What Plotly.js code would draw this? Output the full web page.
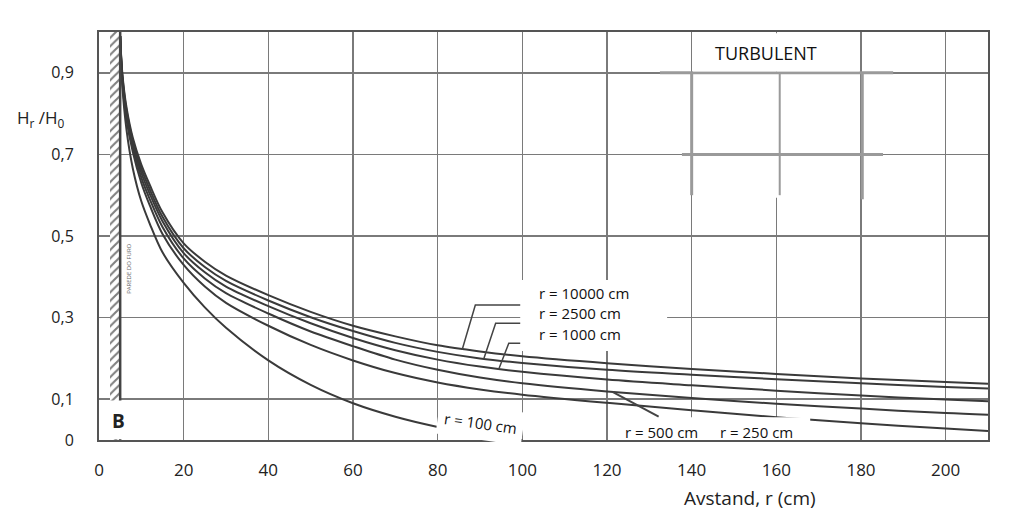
<!DOCTYPE html>
<html>
<head>
<meta charset="utf-8">
<script src="https://cdn.plot.ly/plotly-3.0.1.min.js"></script>
<style>
  html, body { margin: 0; padding: 0; background: #fff; }
  #chart { width: 1023px; height: 526px; }
</style>
</head>
<body>
<div id="chart"></div>
<script>
// distance from the well centre, cm
var distance = [5, 5.5, 6.5, 8, 10, 12, 15, 20, 25, 30, 40, 50, 60, 70, 80, 90, 100, 120, 140, 160, 180, 200, 210];
var distance100 = [5, 5.5, 6.5, 8, 10, 12, 15, 20, 25, 30, 40, 50, 60, 70, 80, 90, 100];

// Hr/H0, one list per radius of influence
var r10000 = [0.99, 0.90, 0.815, 0.74, 0.675, 0.625, 0.558, 0.482, 0.437, 0.403, 0.355, 0.314, 0.28, 0.254, 0.232, 0.217, 0.205, 0.188, 0.174, 0.162, 0.151, 0.142, 0.138];
var r2500 = [0.99, 0.895, 0.808, 0.733, 0.665, 0.614, 0.547, 0.47, 0.424, 0.39, 0.342, 0.301, 0.267, 0.238, 0.216, 0.2, 0.189, 0.172, 0.16, 0.149, 0.139, 0.13, 0.126];
var r1000 = [0.99, 0.89, 0.80, 0.725, 0.655, 0.603, 0.536, 0.458, 0.411, 0.376, 0.328, 0.286, 0.25, 0.22, 0.197, 0.18, 0.167, 0.148, 0.134, 0.121, 0.109, 0.099, 0.095];
var r500 = [0.99, 0.885, 0.792, 0.715, 0.643, 0.59, 0.522, 0.445, 0.396, 0.36, 0.31, 0.266, 0.23, 0.197, 0.172, 0.153, 0.139, 0.119, 0.103, 0.089, 0.077, 0.066, 0.062];
var r250 = [0.99, 0.88, 0.785, 0.705, 0.63, 0.575, 0.505, 0.429, 0.376, 0.336, 0.28, 0.233, 0.195, 0.164, 0.141, 0.124, 0.111, 0.091, 0.073, 0.056, 0.041, 0.028, 0.022];
var r100 = [0.99, 0.87, 0.76, 0.665, 0.585, 0.53, 0.46, 0.385, 0.325, 0.275, 0.195, 0.135, 0.09, 0.057, 0.032, 0.013, 0.0];

var xTicks = [0, 20, 40, 60, 80, 100, 120, 140, 160, 180, 200];
var yTicks = [0, 0.1, 0.3, 0.5, 0.7, 0.9];
var yTickText = ["0", "0,1", "0,3", "0,5", "0,7", "0,9"];

var wallRadius = 5;   // borehole wall
var wallInner = 2.5;

var font = "Open Sans, Noto Sans, sans-serif";
var curveColor = "#3a3a3a";

function curve(x, y, name) {
    return {
        x: x, y: y, name: name,
        mode: "lines",
        line: { color: curveColor, width: 2, shape: "spline", smoothing: 0.9 },
        hoverinfo: "skip",
        showlegend: false
    };
}

var data = [
    // hatched strip for the borehole wall
    {
        type: "bar",
        x: [(wallInner + wallRadius) / 2],
        y: [1],
        width: [wallRadius - wallInner],
        marker: {
            color: "white",
            line: { width: 0 },
            pattern: { shape: "/", fgcolor: "#808080", bgcolor: "white", size: 6, solidity: 0.35 }
        },
        hoverinfo: "skip",
        showlegend: false
    },
    curve(distance, r10000, "r = 10000 cm"),
    curve(distance, r2500, "r = 2500 cm"),
    curve(distance, r1000, "r = 1000 cm"),
    curve(distance, r500, "r = 500 cm"),
    curve(distance, r250, "r = 250 cm"),
    curve(distance100, r100, "r = 100 cm")
];

var pasteGrey = "#9a9a9a";
var shapes = [
    // wall line
    { type: "line", x0: wallRadius, x1: wallRadius, y0: 0, y1: 1, line: { color: "#444", width: 2.5 } },
    // patch under TURBULENT: blank out the grid, then the re-drawn pieces
    { type: "rect", layer: "above", x0: 140.6, x1: 179.6, y0: 0.594, y1: 0.899, fillcolor: "white", line: { width: 0 } },
    { type: "line", layer: "above", x0: 132.5, x1: 187.6, y0: 0.9, y1: 0.9, line: { color: pasteGrey, width: 3 } },
    { type: "line", layer: "above", x0: 137.7, x1: 185.2, y0: 0.7, y1: 0.7, line: { color: pasteGrey, width: 3 } },
    { type: "line", layer: "above", x0: 140, x1: 140, y0: 0.9, y1: 0.6, line: { color: pasteGrey, width: 3 } },
    { type: "line", layer: "above", x0: 180.3, x1: 180.3, y0: 0.9, y1: 0.59, line: { color: pasteGrey, width: 3 } },
    { type: "line", layer: "above", x0: 160.8, x1: 160.8, y0: 0.9, y1: 0.6, line: { color: pasteGrey, width: 2 } },
    // white boxes pasted over the scan
    { type: "rect", layer: "above", x0: 140.3, x1: 179.7, y0: 0.903, y1: 0.997, fillcolor: "white", line: { width: 0 } },
    { type: "rect", layer: "above", x0: 0.4, x1: 11.5, y0: 0.002, y1: 0.097, fillcolor: "white", line: { width: 0 } },
    { type: "rect", layer: "above", x0: 99.5, x1: 134.2, y0: 0.218, y1: 0.392, fillcolor: "white", line: { width: 0 } },
    { type: "rect", layer: "above", x0: 121.4, x1: 168, y0: -0.017, y1: 0.056, fillcolor: "white", line: { width: 0 } },
    // leader lines
    { type: "path", layer: "above", path: "M 85.8 0.222 L 88.9 0.331 L 99.5 0.331", line: { color: "#444", width: 1.5 } },
    { type: "path", layer: "above", path: "M 90.9 0.199 L 93.7 0.286 L 99.5 0.286", line: { color: "#444", width: 1.5 } },
    { type: "path", layer: "above", path: "M 94.4 0.173 L 96.8 0.237 L 99.5 0.237", line: { color: "#444", width: 1.5 } },
    { type: "line", layer: "above", x0: 121.3, y0: 0.118, x1: 132.2, y1: 0.057, line: { color: "#444", width: 2 } }
];

var annotations = [
    { x: 157.6, y: 0.949, text: "TURBULENT", showarrow: false, font: { family: font, size: 18, color: "#111" } },
    { x: 4.6, y: 0.047, text: "<b>B</b>", showarrow: false, font: { family: font, size: 19, color: "#222" } },
    { x: 90, y: 0.042, text: "r = 100 cm", textangle: 8, showarrow: false, bgcolor: "white", borderpad: 6,
      font: { family: font, size: 15, color: "#111" } },
    { x: 103.5, y: 0.361, xanchor: "left", text: "r = 10000 cm", showarrow: false, font: { family: font, size: 15, color: "#111" } },
    { x: 103.5, y: 0.311, xanchor: "left", text: "r = 2500 cm", showarrow: false, font: { family: font, size: 15, color: "#111" } },
    { x: 103.5, y: 0.259, xanchor: "left", text: "r = 1000 cm", showarrow: false, font: { family: font, size: 15, color: "#111" } },
    { x: 132.8, y: 0.02, text: "r = 500 cm", showarrow: false, font: { family: font, size: 15, color: "#111" } },
    { x: 155.2, y: 0.02, text: "r = 250 cm", showarrow: false, font: { family: font, size: 15, color: "#111" } },
    { x: 6.9, y: 0.42, text: "PAREDE DO FURO", textangle: -90, showarrow: false, font: { family: font, size: 6, color: "#666" } },
    // axis titles
    { xref: "paper", yref: "paper", x: -0.065, y: 0.789, xanchor: "center", yanchor: "middle",
      text: "H<sub>r</sub> /H<sub>0</sub>", showarrow: false, font: { family: font, size: 17, color: "#222" } },
    { xref: "paper", yref: "paper", x: 0.732, y: -0.142, xanchor: "center", yanchor: "middle",
      text: "Avstand, r (cm)", showarrow: false, font: { family: font, size: 19, color: "#222" } }
];

var layout = {
    width: 1023,
    height: 526,
    margin: { l: 99, r: 35, t: 32, b: 86 },
    paper_bgcolor: "white",
    plot_bgcolor: "white",
    showlegend: false,
    bargap: 0,
    xaxis: {
        range: [0, 210],
        tickvals: xTicks,
        ticks: "",
        ticklabelstandoff: 14,
        tickfont: { family: font, size: 17, color: "#222" },
        showgrid: true,
        gridcolor: "#7a7a7a",
        gridwidth: 1.5,
        zeroline: false,
        showline: true,
        mirror: true,
        linecolor: "#555",
        linewidth: 2,
        fixedrange: true
    },
    yaxis: {
        range: [0, 1],
        tickvals: yTicks,
        ticktext: yTickText,
        ticks: "",
        ticklabelstandoff: 20,
        tickfont: { family: font, size: 16, color: "#222" },
        showgrid: true,
        gridcolor: "#7a7a7a",
        gridwidth: 1.5,
        zeroline: false,
        showline: true,
        mirror: true,
        linecolor: "#555",
        linewidth: 2,
        fixedrange: true
    },
    shapes: shapes,
    annotations: annotations
};

Plotly.newPlot("chart", data, layout, { displayModeBar: false, staticPlot: true });
</script>
</body>
</html>
